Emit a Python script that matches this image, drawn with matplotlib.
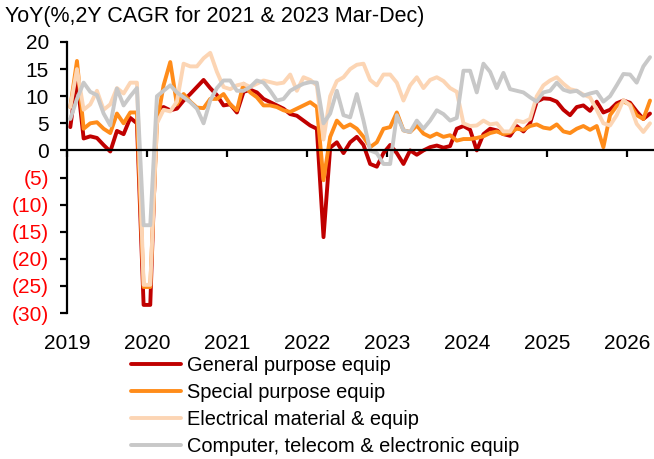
import numpy as np
import matplotlib
matplotlib.use("Agg")
import matplotlib.pyplot as plt

plt.rcParams['font.family'] = ['Liberation Sans', 'DejaVu Sans']

# monthly YoY readings, Jan-2019 .. Apr-2026 positions
general = [4.3, 13.5, 2.2, 2.6, 2.3, 1.0, -0.2, 3.6, 3.0, 6.0, 5.0,
           -28.5, -28.5, 7.5, 8.0, 7.4, 7.7, 9.2, 10.4, 11.7, 13.0, 11.5, 10.2, 8.3,
           8.5, 7.0, 10.8, 11.2, 10.7, 9.5, 8.9, 8.3, 7.7, 6.7, 6.4, 5.5,
           4.6, 4.0, -16.0, 0.5, 1.5, -0.5, 1.5, 2.5, 1.0, -2.5, -3.0, -0.5,
           1.0, -0.5, -2.5, 0.0, -0.8, 0.0, 0.6, 0.9, 0.5, 0.8, 4.0, 4.5,
           3.8, 0.0, 3.0, 4.0, 3.7, 3.0, 2.7, 4.5, 3.5, 5.0, 9.0, 9.6,
           9.5, 9.0, 7.5, 6.5, 8.0, 8.3, 7.3, 9.0, 7.0, 7.5, 8.7, 9.2,
           8.8, 7.2, 5.8, 6.8]
special = [8.0, 16.5, 4.0, 5.0, 5.2, 4.0, 3.2, 6.8, 5.0, 7.0, 7.0,
           -25.2, -25.2, 5.0, 12.0, 16.3, 8.5, 10.4, 9.0, 7.9, 7.8, 9.5, 9.5, 10.4,
           8.5, 7.4, 12.3, 10.7, 9.8, 8.3, 8.3, 8.0, 7.4, 7.1, 7.7, 8.3,
           8.9, 8.0, -5.5, 2.5, 5.5, 4.2, 4.8, 4.0, 2.5, 0.6, 1.5, 4.0,
           4.3, 7.0, 3.7, 3.4, 4.6, 3.1, 2.5, 3.1, 2.5, 2.8, 1.8, 2.1,
           2.1, 2.3, 2.6, 3.2, 3.5, 3.0, 3.3, 4.0, 3.8, 4.5, 4.8, 4.2,
           4.0, 4.8, 3.5, 3.2, 4.0, 4.5, 3.8, 4.5, 0.6, 6.5, 8.2, 9.0,
           8.5, 6.5, 5.8, 9.2]
electrical = [8.0, 15.0, 7.5, 8.5, 11.0, 7.5, 8.5, 11.5, 10.5, 12.5, 12.5,
              -24.8, -24.8, 5.0, 7.5, 7.2, 9.0, 16.0, 15.5, 15.5, 17.0, 18.0, 14.5, 11.7,
              11.3, 12.0, 12.3, 11.7, 12.3, 12.9, 12.6, 12.3, 12.5, 14.0, 11.0, 13.5,
              13.0, 12.0, 2.0, 10.0, 12.8, 13.5, 15.0, 15.8, 16.0, 13.0, 12.0, 14.0,
              14.0, 12.5, 9.2, 12.0, 13.5, 11.5, 13.0, 13.5, 12.8, 11.5, 10.8, 5.0,
              4.5, 4.6, 5.5, 4.8, 5.0, 3.5, 3.5, 5.5, 5.2, 5.8, 10.0, 12.0,
              12.9, 13.5, 12.3, 11.3, 11.0, 10.3, 9.8, 7.5, 5.0, 4.6, 6.5, 9.3,
              8.3, 4.9, 3.4, 5.0]
computer = [5.8, 9.5, 12.5, 10.8, 10.2, 6.8, 4.6, 11.4, 8.3, 10.0, 11.5,
            -13.8, -13.8, 10.0, 11.0, 12.0, 10.7, 9.8, 8.9, 7.7, 5.0, 9.2, 11.5, 12.9,
            12.9, 11.0, 11.0, 11.7, 12.9, 12.5, 11.0, 9.2, 9.5, 11.0, 11.7, 12.3,
            12.6, 12.5, 5.0, 6.8, 11.0, 6.5, 6.1, 10.4, 5.5, 0.0, -0.5, -2.5,
            -2.5, 6.5, 3.7, 3.4, 5.5, 4.0, 5.5, 7.4, 6.7, 5.5, 6.0, 14.7,
            14.7, 10.7, 16.0, 14.5, 11.5, 14.3, 11.3, 11.0, 10.7, 9.8, 9.0, 10.7,
            11.0, 12.5, 11.2, 10.8, 11.0, 10.1, 10.5, 10.8, 9.0, 10.0, 12.0, 14.1,
            14.0, 12.5, 15.5, 17.2]

names = ['General purpose equip', 'Special purpose equip',
         'Electrical material & equip', 'Computer, telecom & electronic equip']
colors = ['#C00000', '#FF8C1A', '#FCD5B4', '#C8C8C8']
years = list(range(2019, 2027))
yticks = list(range(-30, 21, 5))

x = 2019 + (np.arange(len(general)) + 0.5) / 12

fig = plt.figure(figsize=(6.54, 4.59), dpi=100)
ax = fig.add_axes([0.1024, 0.318, 0.8966, 0.5905])

for vals, name, col in zip([general, special, electrical, computer], names, colors):
    ax.plot(x, vals, color=col, lw=2.8, label=name, solid_joinstyle='round',
            solid_capstyle='round', clip_on=False)

ax.set_xlim(2019, 2026 + 4 / 12)
ax.set_ylim(-30, 20)

ax.spines['top'].set_visible(False)
ax.spines['right'].set_visible(False)
ax.spines['bottom'].set_position(('data', 0))
ax.spines['bottom'].set_linewidth(1.6)
ax.spines['left'].set_linewidth(1.6)

ax.set_xticks(years)
ax.tick_params(axis='x', direction='out', length=5, width=1.6, labelbottom=False)
ax.set_yticks(yticks)
ax.set_yticklabels([f'({-v})' if v < 0 else str(v) for v in yticks])
ax.tick_params(axis='y', direction='out', length=5, width=1.6, labelsize=15, pad=8)
for v, lab in zip(yticks, ax.get_yticklabels()):
    if v < 0:
        lab.set_color('#FF0000')

sec = ax.secondary_xaxis(0)
sec.set_xticks(years)
sec.set_xticklabels([str(y) for y in years])
sec.tick_params(length=0, pad=15, labelsize=15)
sec.spines['bottom'].set_visible(False)

fig.text(0.008, 0.965, 'YoY(%,2Y CAGR for 2021 & 2023 Mar-Dec)', fontsize=15.5,
         ha='left', va='center')

fig.legend(loc='upper left', bbox_to_anchor=(0.201, 0.225), frameon=False,
           fontsize=14.4, handlelength=2.5, handletextpad=0.3,
           labelspacing=0.41, borderpad=0, borderaxespad=0)

fig.savefig('out.png', dpi=100)
